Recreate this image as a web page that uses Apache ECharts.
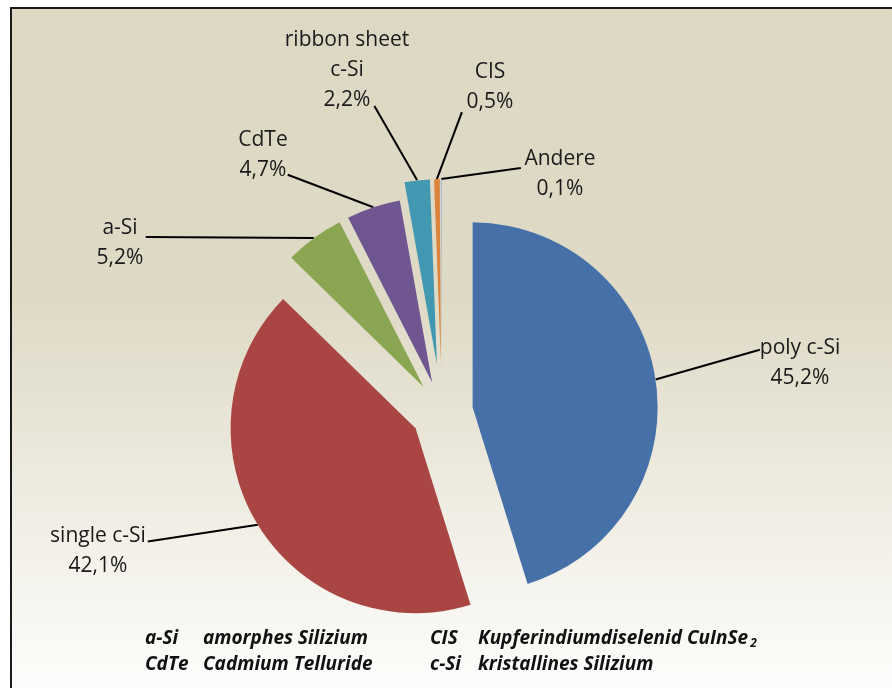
<!DOCTYPE html>
<html>
<head>
<meta charset="utf-8">
<title>Marktanteile Photovoltaik-Technologien</title>
<script src="https://cdn.jsdelivr.net/npm/echarts@6/dist/echarts.min.js"></script>
<style>
  html, body { margin: 0; padding: 0; background: #fff; }
  #chart { width: 892px; height: 688px; }
</style>
</head>
<body>
<div id="chart"></div>
<script>
// Daten
const technologies = ['poly c-Si', 'single c-Si', 'a-Si', 'CdTe', 'ribbon sheet\nc-Si', 'CIS', 'Andere'];
const shares = [45.2, 42.1, 5.2, 4.7, 2.2, 0.5, 0.1];
const sliceColors = ['#4571A8', '#A94543', '#8AA652', '#6F5690', '#4298B0', '#DB843D', '#A7BBDA'];

// Abkürzungen unten
const abbrevLeft = ['a-Si', 'CdTe'];
const meaningLeft = ['amorphes Silizium', 'Cadmium Telluride'];
const abbrevRight = ['CIS', 'c-Si'];
const meaningRight = ['Kupferindiumdiselenid CuInSe{sub|2}', 'kristallines Silizium'];

// Layout: Explosion je Segment, Beschriftungsmitte, Ansatzpunkt der Linie am Textblock (Anteil von Breite/Höhe)
const explode = [31, 31, 31, 31, 48, 48, 48];
const labelSpots = [[800, 363], [98, 551], [120, 243], [263, 155], [347, 70], [490, 87], [560, 174]];
const lineAnchors = [[0, 0.28], [1.02, 0.34], [1.05, 0.4], [1.0, 0.83], [0.72, 0.9], [-0.1, 0.92], [-0.05, 0.4]];

const CENTER = [442, 412];
const R = 185;

const chart = echarts.init(document.getElementById('chart'));

const fmt = v => v.toFixed(1).replace('.', ',') + '%';

const legendFont = {
  fontFamily: 'Open Sans',
  fontStyle: 'italic',
  fontWeight: 'bold',
  fontSize: 19,
  fill: '#111'
};

const legendTexts = [];
[0, 1].forEach(i => {
  const y = 642 + i * 26;
  legendTexts.push({ type: 'text', left: 145, top: y - 13, z: 5, style: Object.assign({ text: abbrevLeft[i] }, legendFont) });
  legendTexts.push({ type: 'text', left: 203, top: y - 13, z: 5, style: Object.assign({ text: meaningLeft[i] }, legendFont) });
  legendTexts.push({ type: 'text', left: 430, top: y - 13, z: 5, style: Object.assign({ text: abbrevRight[i] }, legendFont) });
  legendTexts.push({
    type: 'text', left: 478, top: y - 13, z: 5,
    style: Object.assign({
      text: meaningRight[i],
      rich: { sub: { fontSize: 12, verticalAlign: 'bottom', padding: [10, 0, 0, 2], fontStyle: 'italic', fontWeight: 'bold', fontFamily: 'Open Sans' } }
    }, legendFont)
  });
});

const groups = [...new Set(explode)];
const series = [];
groups.forEach(off => {
  // sichtbare, herausgezogene Segmente
  series.push({
    type: 'pie',
    center: CENTER,
    radius: R,
    startAngle: 90,
    selectedMode: 'multiple',
    selectedOffset: off,
    emphasis: { disabled: true },
    label: { show: false },
    labelLine: { show: false },
    data: technologies.map((name, i) => ({
      name: name,
      value: shares[i],
      selected: true,
      itemStyle: { color: explode[i] === off ? sliceColors[i] : 'rgba(0,0,0,0)' }
    }))
  });
  // unsichtbarer Kreis für Beschriftungen und Linien
  series.push({
    type: 'pie',
    center: CENTER,
    radius: R + off,
    startAngle: 90,
    silent: true,
    avoidLabelOverlap: false,
    emphasis: { disabled: true },
    itemStyle: { color: 'rgba(0,0,0,0)' },
    label: {
      position: 'outside',
      fontFamily: 'Open Sans',
      fontSize: 21,
      lineHeight: 30,
      color: '#1a1a1a',
      align: 'center',
      formatter: p => p.name + '\n' + fmt(p.value)
    },
    labelLine: {
      length: 10,
      length2: 10,
      lineStyle: { color: '#000', width: 2 }
    },
    labelLayout: params => {
      const i = params.dataIndex;
      const s = labelSpots[i];
      const w = params.labelRect.width;
      const h = params.labelRect.height;
      const a = lineAnchors[i];
      const end = [s[0] - w / 2 + a[0] * w, s[1] - h / 2 + a[1] * h];
      const res = { x: s[0], y: s[1], align: 'center', verticalAlign: 'middle' };
      if (params.labelLinePoints) {
        const start = params.labelLinePoints[0];
        res.labelLinePoints = [start, end, end];
      }
      return res;
    },
    data: technologies.map((name, i) => ({
      name: name,
      value: shares[i],
      label: { show: explode[i] === off },
      labelLine: { show: explode[i] === off }
    }))
  });
});

const option = {
  animation: false,
  graphic: [
    {
      type: 'rect',
      z: -10,
      shape: { x: 11, y: 8, width: 900, height: 700 },
      style: {
        fill: new echarts.graphic.LinearGradient(0, 0, 0, 1, [
          { offset: 0, color: '#DDD8C3' },
          { offset: 0.42, color: '#DFDAC6' },
          { offset: 1, color: '#FFFFFF' }
        ]),
        stroke: '#1a1a1a',
        lineWidth: 2
      }
    }
  ].concat(legendTexts),
  series: series
};

chart.setOption(option);
</script>
</body>
</html>
